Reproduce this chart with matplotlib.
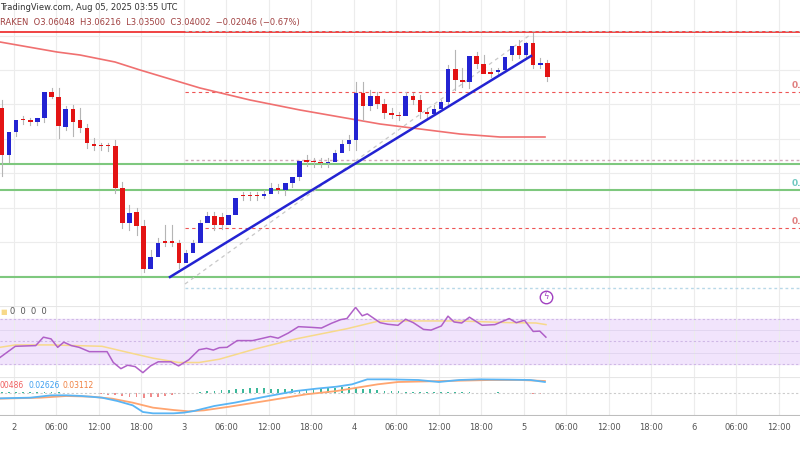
import numpy as np
import matplotlib
matplotlib.use("Agg")
import matplotlib.pyplot as plt
from matplotlib.patches import Rectangle

# ---- data (levels, in chart pixel rows; converted to price below) ----
open_px = [108,155,132,120,121,122,118,92,97,127,
           109,120,128,144,146,146,146,188,223,212,
           226,269,257,242,242,243,263,253,243,223,
           216,217,225,215,196,196,196,196,194,188,
           190,183,177,161,161,162,163,162,153,144,
           140,93,106,96,104,113,116,116,96,100,
           112,114,109,102,69,80,82,56,64,72,
           72,70,55,46,55,43,65,63]
close_px = [155,132,120,120.5,121.5,118,92,97,126,109,
            122,128,143,146,146.5,146.5,188,223,213,226,
            269,257,243,242.5,242.5,263,253,243,223,216,
            225,225,215,198,196.5,196.5,196.5,194,188,190,
            183,177,161,161.5,162,163,162,153,144,140,
            93,106,96,104,113,115,116.5,96,100,112,
            114,109,102,69,80,82,56,64,74,74,
            70,57,46,55,43,65,63,77]
high_px = [100,150,128,116,118,118,114,88,88,106,
           105,108,124,138,143,143,140,182,205,208,
           220,250,238,225,225,240,250,240,220,212,
           212,213,215,205,192,192,192,190,183,184,
           186,178,165,155,158,158,158,150,140,135,
           82,82,90,92,99,108,112,92,93,95,
           108,105,100,65,50,68,72,52,55,68,
           68,62,50,40,42,33,58,60]
low_px = [176,162,136,124,125,125,122,98,138,130,
          136,132,148,150,150,151,193,228,230,235,
          272,265,248,246,246,268,258,250,227,221,
          230,229,218,202,200,200,200,198,191,193,
          195,187,180,166,167,167,167,158,148,150,
          150,120,110,108,118,118,120,104,104,118,
          118,112,106,106,90,87,88,68,72,77,
          76,72,60,58,58,68,68,81]

ma_px_x = [0,57,80,115,140,200,250,300,340,380,420,460,500,545]
ma_px_y = [42,52,55,62,70,88,100,110,117,124,129,134,137,137]

rsi_px_x = [0,15.3,35.7,43.4,51,57.7,63.8,71.4,79.1,89.3,107.1,113.3,120.9,127.6,135.2,142.9,150.5,158.2,170.9,178.6,
            188.8,199,206.6,213.3,219.4,227,237.2,252.6,260.2,270.4,278.1,288.3,298.5,311.2,321.4,331.6,340.8,346.9,355.6,362.2,
            367.3,380.1,387.8,398,405.6,413.3,423.5,431.1,441.3,448,454.1,461.7,469.4,482.1,494.9,509.2,516.3,524.5,533.2,539.8,545.9]
rsi_vals = [35.9,45.7,46.3,53.7,52.2,44.8,49.3,46.3,44.8,41.0,41.0,31.5,26.1,29.1,27.9,22.6,28.5,32.1,32.1,28.5,
            33.9,42.7,43.9,42.4,44.5,44.8,50.7,50.7,52.2,54.3,52.8,57.3,62.9,62.3,61.7,65.9,69.1,70.0,79.8,72.4,
            74.1,66.4,65.0,64.1,69.4,66.4,60.5,59.9,63.5,72.1,67.0,66.1,71.2,64.1,64.7,70.0,66.4,68.5,58.7,59.0,53.7]
rsima_px_x = [0,15.3,51,102,127.6,153,178.6,199,219.4,255,296,347,377.6,408,459,510,536,546]
rsima_vals = [44.8,46.9,46.9,45.7,40.4,35.3,31.5,31.5,34.4,43.3,52.2,61.1,67.6,67.9,67.9,66.4,66.1,64.7]

macd_px_x = [0,30.6,51,66.3,81.6,102,117.3,132.7,142.9,153,173.5,183.7,193.9,214.3,234.7,265.3,295.9,316.3,336.7,352,367.3,387.8,418.4,438.8,459.2,479.6,510.2,530.6,544.9]
macd_lvl = [327,325,318,318,320,325,335,348,368,372,372,370,365,350,340,322,305,298,292,285,270,270,272,278,272,270,271,272,278]
sig_px_x = [0,40.8,66.3,91.8,112.2,132.7,153,173.5,188.8,204.1,229.6,265.3,306.1,336.7,357.1,377.6,398,428.6,459.2,489.8,520.4,544.9]
sig_lvl = [328,325,320,322,328,340,355,362,366,363,352,335,315,305,295,285,278,276,274,272,272,275]
hist_lvl = [1,1,2,2,3,3,2,2,1,0,0,-1,-1,-2,
            -4,-6,-8,-10,-12,-14,-15,-14,-12,-10,-7,-4,
            -2,0,2,
            4,6,8,9,11,12,13,14,13,12,12,11,10,9,9,10,12,14,15,16,16,14,12,
            10,8,6,5,4,3,2,2,2,3,3,2,2,1,1,0,0,0,1,0,-1,-2,-3,-4,-5]

tick_hours = list(range(0, 109, 6))
tick_labels = ["2","06:00","12:00","18:00","3","06:00","12:00","18:00","4","06:00","12:00","18:00",
               "5","06:00","12:00","18:00","6","06:00","12:00"]

# ---- conversions ----
def price(px):
    return 3.3 - np.asarray(px, float) / 1000.0
def hours(px):
    return (np.asarray(px, float) - 14.0) / 7.083

O, C, H, L = price(open_px), price(close_px), price(high_px), price(low_px)
candle_h = np.arange(len(open_px)) - 1.7
XMIN, XMAX = hours(0), hours(800)

BLUE = "#2323d2"; RED = "#e31414"; GRIDC = "#ececec"
fig = plt.figure(figsize=(8, 4.5), dpi=100)
W, Hh = 800.0, 450.0
def ax_at(top, bottom):
    return fig.add_axes([0, 1 - bottom / Hh, 1, (bottom - top) / Hh])

def base(ax):
    ax.set_xlim(XMIN, XMAX)
    for s in ax.spines.values():
        s.set_visible(False)
    ax.set_yticks([])
    ax.set_xticks(tick_hours)
    ax.tick_params(length=0, labelbottom=False)
    ax.grid(axis="x", color=GRIDC, lw=0.8)
    ax.set_axisbelow(True)

# main panel
ax = ax_at(0, 306)
base(ax)
ax.set_ylim(price(306), price(0))
for g in np.arange(35.6, 300, 34.4):
    ax.axhline(price(g), color=GRIDC, lw=0.8, zorder=0)
h185 = hours(185)
ax.axhline(price(32), color="#ee2222", lw=1.2)
ax.plot([h185, XMAX], [price(31)] * 2, color="#bbbbbb", ls=(0, (3, 3)), lw=0.8)
ax.plot([h185, XMAX], [price(92)] * 2, color="#ee5555", ls=(0, (3, 3)), lw=0.8)
ax.plot([h185, XMAX], [price(228)] * 2, color="#ee5555", ls=(0, (3, 3)), lw=0.8)
ax.plot([h185, XMAX], [price(160)] * 2, color="#d0a8b8", ls=(0, (2, 2)), lw=1.0)
ax.plot([h185, XMAX], [price(288)] * 2, color="#b8d8e8", ls=(0, (2, 2)), lw=1.0)
for lv in [164, 190, 277]:
    ax.axhline(price(lv), color="#7ec87e", lw=1.5)
ax.plot(hours(ma_px_x), price(ma_px_y), color="#f07070", lw=1.2)
ax.plot(hours([185, 530]), price([284, 35]), color="#c8c8c8", ls=(0, (3, 3)), lw=0.9)
for i in range(len(O)):
    up = C[i] >= O[i]
    col = BLUE if up else RED
    ax.plot([candle_h[i]] * 2, [L[i], H[i]], color="#b5b5b5", lw=0.8, zorder=2)
    lo, hi = min(O[i], C[i]), max(O[i], C[i])
    ax.add_patch(Rectangle((candle_h[i] - 0.32, lo), 0.64, max(hi - lo, 0.0012),
                           facecolor=col, edgecolor="none", zorder=3))
ax.plot(hours([170, 531]), price([277, 56]), color=BLUE, lw=1.8, zorder=4)
for y, c in [(86, "#e08080"), (184, "#70c8c0"), (222, "#e08080")]:
    ax.text(hours(792), price(y), "0.", color=c, fontsize=6.5, va="center", fontweight="bold")
ax.plot([hours(546)], [price(297)], "o", ms=9, mfc="none", mec="#a040c0", mew=1)
ax.text(hours(546), price(297), "ϟ", color="#a040c0", fontsize=6, ha="center", va="center")

# RSI panel
ar = ax_at(306, 377)
base(ar)
ar.set_ylim(18.8, 81)
ar.axhspan(30, 70, color="#f1e4fc", zorder=0)
for v in [30, 70]:
    ar.axhline(v, color="#cfb8e6", ls=(0, (2, 2)), lw=0.8)
ar.axhline(50, color="#cfb8e6", ls=(0, (2, 2)), lw=0.8)
ar.axhline(60, color="#e0d4ee", lw=0.6); ar.axhline(40, color="#e0d4ee", lw=0.6)
ar.plot(hours(rsima_px_x), rsima_vals, color="#f7d98a", lw=1.1)
ar.plot(hours(rsi_px_x), rsi_vals, color="#b060c8", lw=1.1)
ar.axhline(81, color="#e6e6e6", lw=1.5)

# MACD panel
am = ax_at(377, 416)
base(am)
am.set_ylim(-0.035, 0.0235)
mv = lambda a: (310 - np.asarray(a, float)) * 0.0005
for i, hv in enumerate(hist_lvl):
    am.bar(candle_h[i], hv * 0.0005, width=0.25, color="#3cb89a" if hv >= 0 else "#f08a8a", zorder=2)
am.axhline(0, color="#cccccc", ls=(0, (2, 2)), lw=0.8)
am.plot(hours(sig_px_x), mv(sig_lvl), color="#ffa570", lw=1.3)
am.plot(hours(macd_px_x), mv(macd_lvl), color="#59b5f5", lw=1.3)
am.axhline(0.0235, color="#e6e6e6", lw=1.5)
am.axhline(-0.035, color="#bdbdbd", lw=1.5)
am.tick_params(labelbottom=True, labelsize=6, labelcolor="#555555", pad=5)
am.set_xticklabels(tick_labels)

# texts
fig.text(0.0, 1 - 7 / Hh, "TradingView.com, Aug 05, 2025 03:55 UTC", fontsize=6, color="#333333", va="center")
fig.text(0.0, 1 - 23 / Hh, "RAKEN  O3.06048  H3.06216  L3.03500  C3.04002  −0.02046 (−0.67%)",
         fontsize=6, color="#a04040", va="center")
fig.text(0.0, 1 - 312 / Hh, "■", fontsize=5, color="#f7d98a", va="center")
fig.text(0.012, 1 - 312 / Hh, "0  0  0  0", fontsize=6, color="#555555", va="center")
fig.text(0.0, 1 - 385 / Hh, "00486", fontsize=5.5, color="#f06060", va="center")
fig.text(0.035, 1 - 385 / Hh, "0.02626", fontsize=5.5, color="#40a0f0", va="center")
fig.text(0.078, 1 - 385 / Hh, "0.03112", fontsize=5.5, color="#f08040", va="center")

fig.savefig("out.png", dpi=100)
